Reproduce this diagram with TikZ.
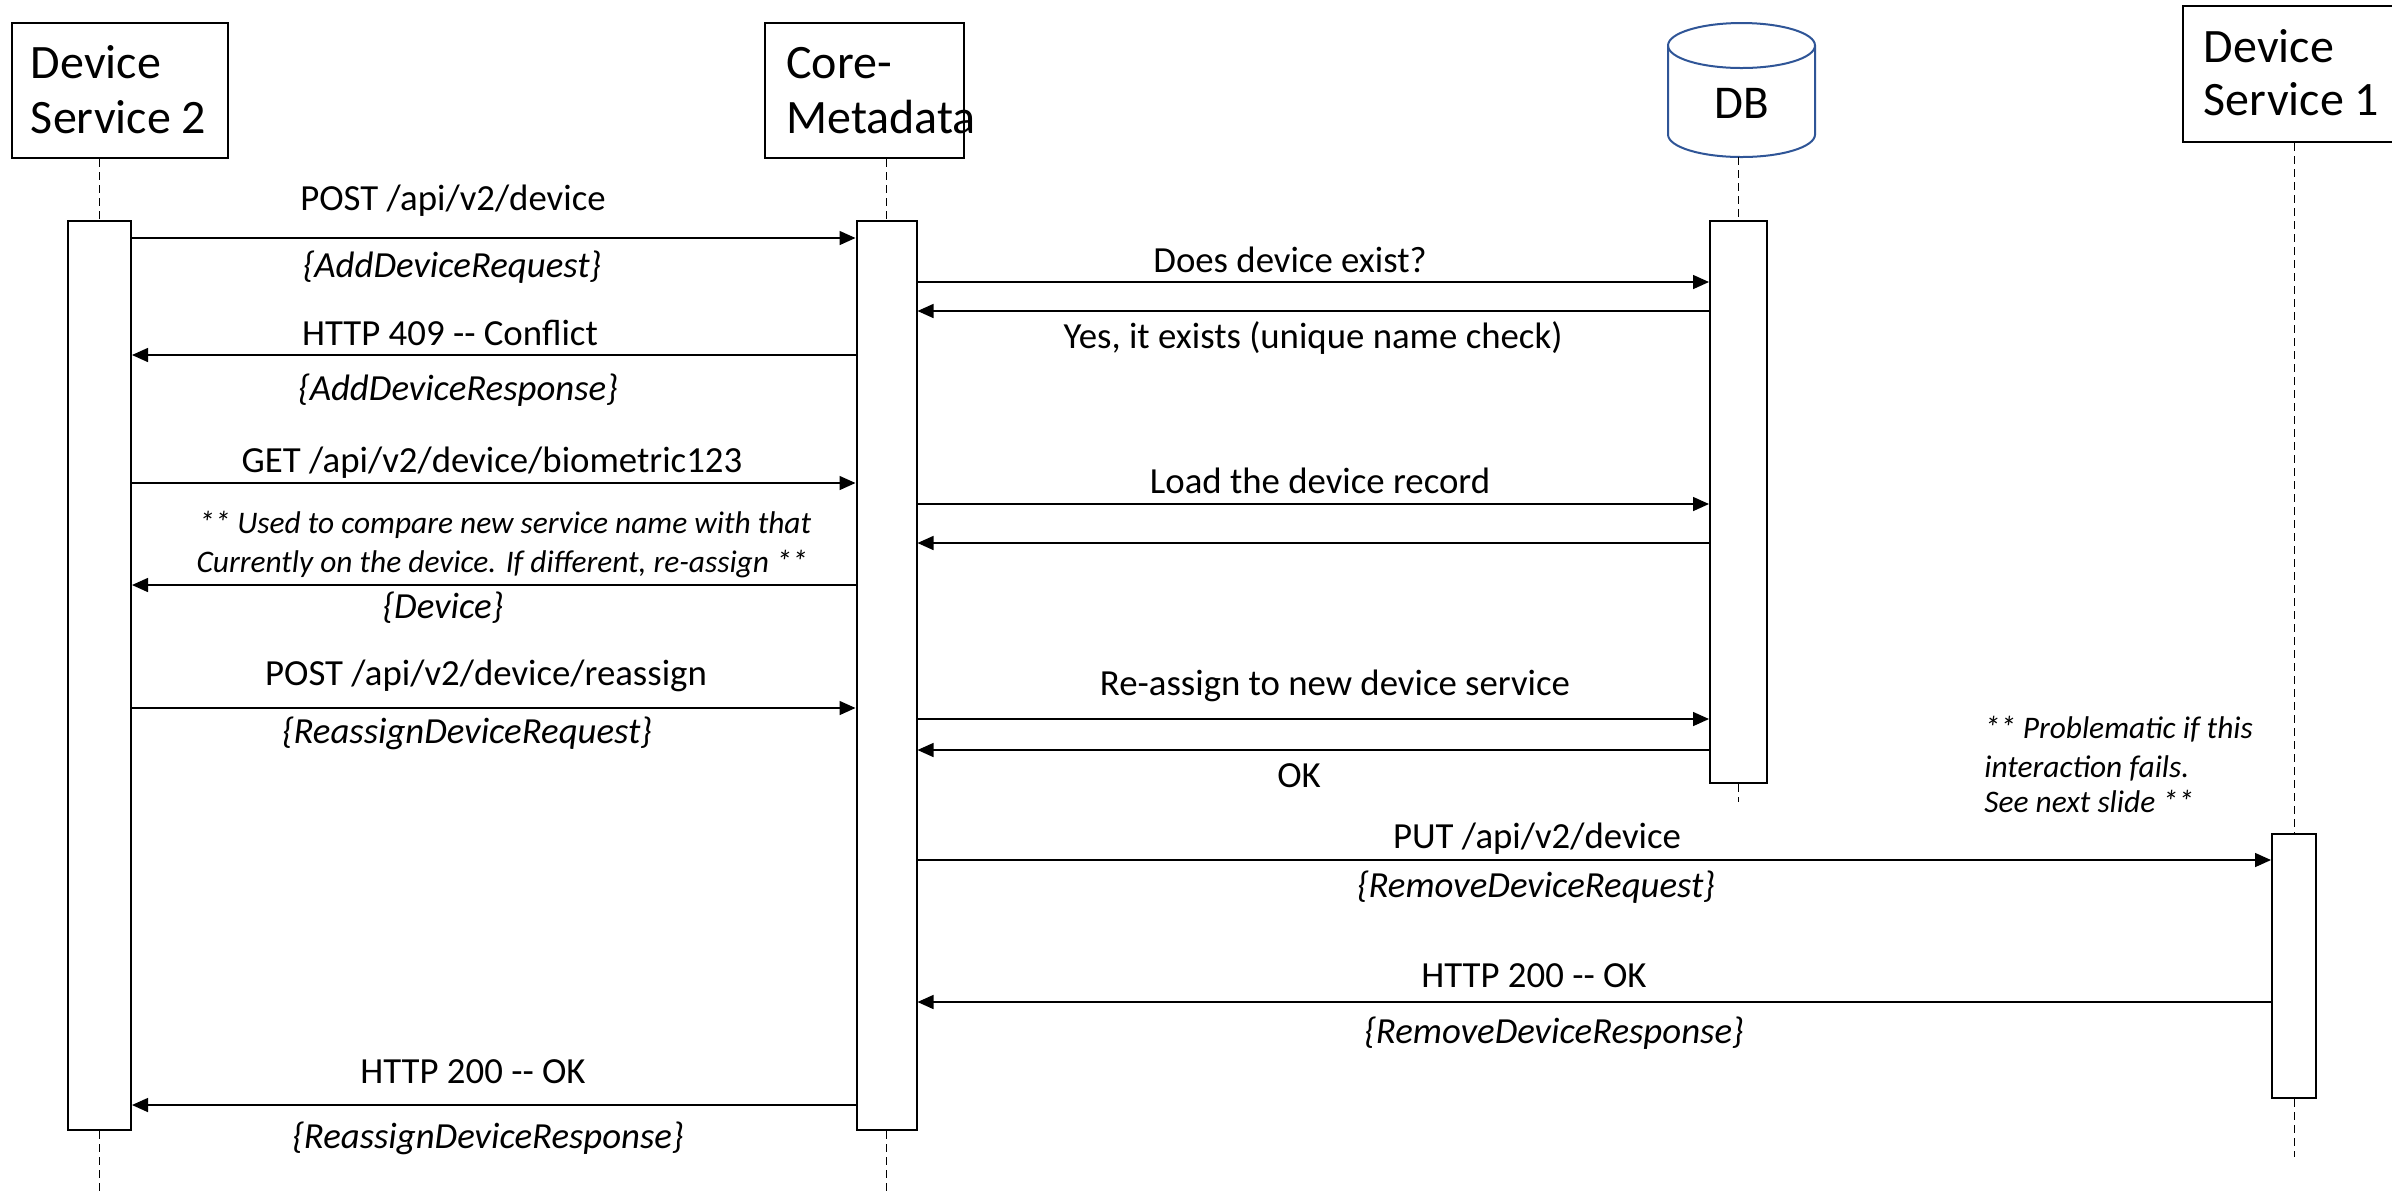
\documentclass[tikz,border=0pt]{standalone}
\usepackage{fontspec}
\setmainfont{Carlito}
\usetikzlibrary{arrows.meta}
\definecolor{dbblue}{RGB}{47,85,151}
\begin{document}
\begin{tikzpicture}[x=0.5pt,y=-0.5pt,
  hdr/.style={font=\fontsize{24}{28}\selectfont, anchor=base west, inner sep=0},
  dbtext/.style={font=\fontsize{23.5}{27}\selectfont, anchor=base, inner sep=0},
  lbl/.style={font=\fontsize{18.4}{22}\selectfont, anchor=base, inner sep=0},
  ilbl/.style={font=\fontsize{18.4}{22}\selectfont\itshape, anchor=center, inner sep=0},
  note/.style={font=\fontsize{15.7}{19}\selectfont\itshape, anchor=base west, inner sep=0},
  headbox/.style={draw, line width=1pt, inner sep=0},
  actbox/.style={draw, fill=white, line width=1pt, inner sep=0},
  life/.style={line width=0.5pt, dash pattern=on 4pt off 2.5pt},
  msg/.style={line width=0.75pt, -{Triangle[length=8pt,width=7pt]}},
]
\useasboundingbox[fill=white] (0,0) rectangle (2392,1191);

% header boxes
\node[headbox, minimum width=108.25pt, minimum height=67.5pt] (h2) at (119.75,90.5) {};
\node[hdr] (h2a) at (30.6,78) {Device};
\node[hdr] (h2b) at (30.6,133) {Service 2};
\node[headbox, minimum width=99.5pt, minimum height=67.5pt] (hc) at (864.5,90.5) {};
\node[hdr] (hca) at (786,78) {Core-};
\node[hdr] (hcb) at (786,133) {Metadata};
\node[headbox, minimum width=108.5pt, minimum height=68pt] (h1) at (2291.5,74) {};
\node[hdr] (h1a) at (2203.5,62) {Device};
\node[hdr] (h1b) at (2203.5,115) {Service 1};

% DB cylinder
\node[inner sep=0, minimum width=73.5pt, minimum height=67pt] (hdb) at (1741.5,90) {};
\draw[dbblue, line width=1pt] (1668,45.5) -- (1668,134.5)
  arc[start angle=180, end angle=360, x radius=36.75pt, y radius=11.25pt] -- (1815,45.5);
\draw[dbblue, line width=1pt] (1741.5,45.5) ellipse [x radius=36.75pt, y radius=11.25pt];
\node[dbtext] (dbt) at (1741.5,118) {DB};

% activation boxes
\node[actbox, minimum width=31.5pt, minimum height=454.5pt] (a2) at (99.5,675.5) {};
\node[actbox, minimum width=30pt, minimum height=454.5pt] (ac) at (886.5,675.5) {};
\node[actbox, minimum width=28.5pt, minimum height=281pt] (adb) at (1738.5,502) {};
\node[actbox, minimum width=22pt, minimum height=132pt] (a1) at (2294,966) {};

% lifelines
\coordinate (e2) at (99.5,1191);
\coordinate (ec) at (886.5,1191);
\coordinate (edb) at (1738.5,802);
\coordinate (e1) at (2294,1157);
\draw[life] (a2.north |- h2.south) -- (a2.north);
\draw[life] (a2.south) -- (e2);
\draw[life] (ac.north |- hc.south) -- (ac.north);
\draw[life] (ac.south) -- (ec);
\draw[life] (adb.north |- hdb.south) -- (adb.north);
\draw[life] (adb.south) -- (edb);
\draw[life] (a1.north |- h1.south) -- (a1.north);
\draw[life] (a1.south) -- (e1);

% message rows
\coordinate (y1) at (0,238);
\coordinate (y2) at (0,282);
\coordinate (y3) at (0,311);
\coordinate (y4) at (0,355);
\coordinate (y5) at (0,483);
\coordinate (y6) at (0,504);
\coordinate (y7) at (0,543);
\coordinate (y8) at (0,585);
\coordinate (y9) at (0,708);
\coordinate (y10) at (0,719);
\coordinate (y11) at (0,750);
\coordinate (y12) at (0,860);
\coordinate (y13) at (0,1002);
\coordinate (y14) at (0,1105);

\draw[msg] (a2.east |- y1) -- (ac.west |- y1);
\draw[msg] (ac.east |- y2) -- (adb.west |- y2);
\draw[msg] (adb.west |- y3) -- (ac.east |- y3);
\draw[msg] (ac.west |- y4) -- (a2.east |- y4);
\draw[msg] (a2.east |- y5) -- (ac.west |- y5);
\draw[msg] (ac.east |- y6) -- (adb.west |- y6);
\draw[msg] (adb.west |- y7) -- (ac.east |- y7);
\draw[msg] (ac.west |- y8) -- (a2.east |- y8);
\draw[msg] (a2.east |- y9) -- (ac.west |- y9);
\draw[msg] (ac.east |- y10) -- (adb.west |- y10);
\draw[msg] (adb.west |- y11) -- (ac.east |- y11);
\draw[msg] (ac.east |- y12) -- (a1.west |- y12);
\draw[msg] (a1.west |- y13) -- (ac.east |- y13);
\draw[msg] (ac.west |- y14) -- (a2.east |- y14);

% labels
\node[lbl] (l1) at (453,210) {POST /api/v2/device};
\node[ilbl] (l1b) at (452,267) {\{AddDeviceRequest\}};
\node[lbl] (l2) at (1290,272) {Does device exist?};
\node[lbl] (l3) at (1313,348) {Yes, it exists (unique name check)};
\node[lbl] (l4) at (450,345) {HTTP 409 -{}- Conflict};
\node[ilbl] (l4b) at (458,390) {\{AddDeviceResponse\}};
\node[lbl] (l5) at (492,472) {GET /api/v2/device/biometric123};
\node[lbl] (l6) at (1320,493) {Load the device record};
\node[note, anchor=base] (l8a) at (505,533) {** Used to compare new service name with that};
\node[note, anchor=base] (l8b) at (502,572) {Currently on the device. If different, re-assign **};
\node[ilbl] (l8c) at (443,608) {\{Device\}};
\node[lbl] (l9) at (486,685) {POST /api/v2/device/reassign};
\node[ilbl] (l9b) at (467,733) {\{ReassignDeviceRequest\}};
\node[lbl] (l10) at (1335,695) {Re-assign to new device service};
\node[lbl] (l11) at (1299,787) {OK};
\node[lbl] (l12) at (1537,848) {PUT /api/v2/device};
\node[ilbl] (l12b) at (1536,887) {\{RemoveDeviceRequest\}};
\node[lbl] (l13) at (1534,987) {HTTP 200 -{}- OK};
\node[ilbl] (l13b) at (1554,1033) {\{RemoveDeviceResponse\}};
\node[lbl] (l14) at (473,1083) {HTTP 200 -{}- OK};
\node[ilbl] (l14b) at (488,1138) {\{ReassignDeviceResponse\}};

% note
\node[note] (n1) at (1984,738) {** Problematic if this};
\node[note] (n2) at (1984,777) {interaction fails.};
\node[note] (n3) at (1984,812) {See next slide **};
\end{tikzpicture}
\end{document}
